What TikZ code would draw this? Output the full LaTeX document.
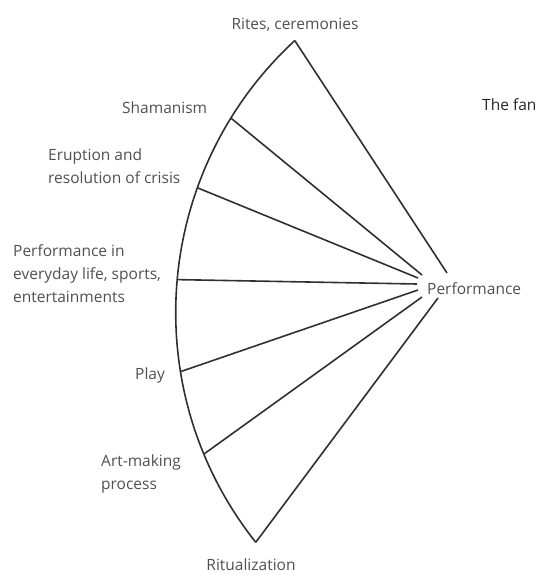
\documentclass[tikz,border=0pt]{standalone}
\usepackage{fontspec}
\setmainfont{Open Sans}
\usetikzlibrary{calc}
\definecolor{txt}{HTML}{505050}
\definecolor{ln}{HTML}{303030}
\begin{document}
\begin{tikzpicture}[x=1pt,y=-1pt,
  lbl/.style={inner sep=0pt,text=txt,font=\fontsize{15.5}{23}\selectfont,align=left},
  ray/.style={draw=ln,line width=1.6pt}]
\useasboundingbox (0,0) rectangle (542,575);
\coordinate (C) at (545.7,312.5);
% arc points
\coordinate (A) at ($(C)+(-132.7:370)$);
\coordinate (S) at ($(C)+(-148.3:370)$);
\coordinate (E) at ($(C)+(-160.3:370)$);
\coordinate (P) at ($(C)+(-174.9:370)$);
\coordinate (Pl) at ($(C)+(-189.2:370)$);
\coordinate (Ar) at ($(C)+(-202.5:370)$);
\coordinate (R) at ($(C)+(-218.4:370)$);
% end points near Performance
\coordinate (a) at (447,273);
\coordinate (s) at (422,275);
\coordinate (e) at (418,278);
\coordinate (p) at (417,284);
\coordinate (pl) at (418,290);
\coordinate (ar) at (422,297);
\coordinate (r) at (438,298);
% arc
\draw[ray] (A) arc[start angle=-132.7,end angle=-218.4,radius=370];
% rays
\draw[ray] (A) -- (a);
\draw[ray] (S) -- (s);
\draw[ray] (E) -- (e);
\draw[ray] (P) -- (p);
\draw[ray] (Pl) -- (pl);
\draw[ray] (Ar) -- (ar);
\draw[ray] (R) -- (r);
% labels
\node[lbl] (rites) at (295,25) {Rites, ceremonies};
\node[lbl,anchor=west] (sham) at (122,108) {Shamanism};
\node[lbl,anchor=west] (erup) at (48,166.5) {Eruption and\\resolution of crisis};
\node[lbl,anchor=west] (perfl) at (13,273.5) {Performance in\\everyday life, sports,\\entertainments};
\node[lbl,anchor=west] (play) at (135,375) {Play};
\node[lbl,anchor=west] (art) at (101,473.5) {Art-making\\process};
\node[lbl] (rit) at (251,565) {Ritualization};
\node[lbl,anchor=west] (perf) at (427,289) {Performance};
\node[lbl,anchor=west,text=black!85] (fan) at (482,105) {The fan};
\end{tikzpicture}
\end{document}
